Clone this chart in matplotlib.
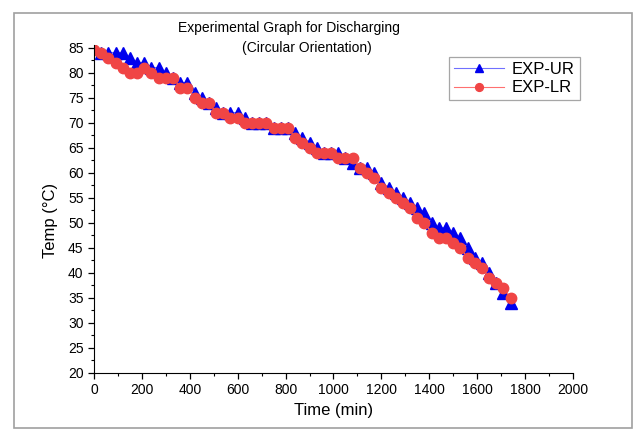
import matplotlib
matplotlib.use("Agg")
import matplotlib.pyplot as plt
from matplotlib.patches import Rectangle
from matplotlib.ticker import MultipleLocator

plt.rcParams['font.family'] = ['Liberation Sans', 'DejaVu Sans']

# time (min), 30 min steps
time = [0, 30, 60, 90, 120, 150, 180, 210, 240, 270, 300, 330, 360, 390, 420, 450,
        480, 510, 540, 570, 600, 630, 660, 690, 720, 750, 780, 810, 840, 870, 900,
        930, 960, 990, 1020, 1050, 1080, 1110, 1140, 1170, 1200, 1230, 1260, 1290,
        1320, 1350, 1380, 1410, 1440, 1470, 1500, 1530, 1560, 1590, 1620, 1650,
        1680, 1710, 1740]

exp_ur = [85, 84, 84, 84, 84, 83, 82, 82, 81, 81, 80, 79, 78, 78, 76, 75,
          74, 73, 72, 72, 72, 71, 70, 70, 70, 69, 69, 69, 68, 67, 66,
          65, 64, 64, 64, 63, 62, 61, 61, 60, 58, 57, 56, 55,
          54, 53, 52, 50, 49, 49, 48, 47, 45, 43, 42, 40,
          38, 36, 34]

exp_lr = [84.5, 84, 83, 82, 81, 80, 80, 81, 80, 79, 79, 79, 77, 77, 75, 74,
          74, 72, 72, 71, 71, 70, 70, 70, 70, 69, 69, 69, 67, 66, 65,
          64, 64, 64, 63, 63, 63, 61, 60, 59, 57, 56, 55, 54,
          53, 51, 50, 48, 47, 47, 46, 45, 43, 42, 41, 39,
          38, 37, 35]

fig = plt.figure(figsize=(6.41, 4.32), dpi=100)
ax = fig.add_axes([0.1466, 0.1366, 0.7472, 0.7592])

# outer frame
fig.patches.append(Rectangle((14/641, 1-428/432), 618/641, 415/432, transform=fig.transFigure,
                             fill=False, edgecolor='#a0a0a0', linewidth=1.2))

ax.plot(time, exp_ur, color='#7070ff', linewidth=0.8, marker='^', markersize=8,
        markerfacecolor='#0000ee', markeredgecolor='#0000ee', label='EXP-UR')
ax.plot(time, exp_lr, color='#ff7070', linewidth=0.8, marker='o', markersize=7.5,
        markerfacecolor='#f04545', markeredgecolor='#f04545', label='EXP-LR')

ax.set_xlim(0, 2000)
ax.set_ylim(20, 85.5)
ax.xaxis.set_major_locator(MultipleLocator(200))
ax.xaxis.set_minor_locator(MultipleLocator(100))
ax.yaxis.set_major_locator(MultipleLocator(5))
ax.yaxis.set_minor_locator(MultipleLocator(2.5))
ax.tick_params(which='major', direction='out', length=4, width=0.9, labelsize=10)
ax.tick_params(which='minor', direction='out', length=2, width=0.8)
for s in ['top', 'right']:
    ax.spines[s].set_visible(False)

ax.set_xlabel('Time (min)', fontsize=12)
ax.set_ylabel('Temp (°C)', fontsize=12)
ax.xaxis.set_label_coords(0.5, -0.092)
ax.yaxis.set_label_coords(-0.075, 0.466)

fig.text(0.451, 0.935, 'Experimental Graph for Discharging', ha='center', va='center', fontsize=10)
fig.text(0.478, 0.888, '(Circular Orientation)', ha='center', va='center', fontsize=10)

leg = ax.legend(loc='upper right', bbox_to_anchor=(1.0146, 0.963), borderaxespad=0, fontsize=12,
                handlelength=3, frameon=True, fancybox=False, edgecolor='#909090',
                borderpad=0.3, labelspacing=0.2, handletextpad=0.5, markerscale=0.75)
leg.get_frame().set_linewidth(0.9)

plt.savefig('out.png', dpi=100)
